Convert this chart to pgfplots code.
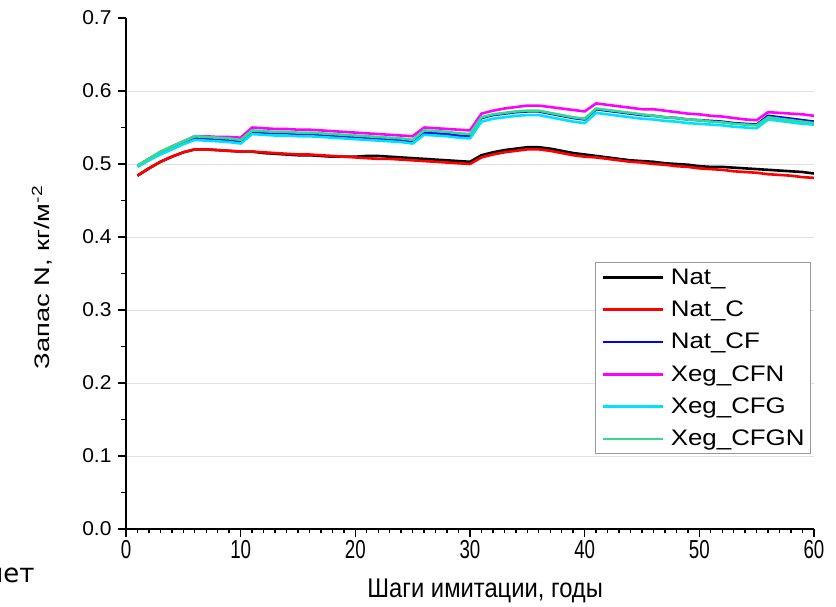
\documentclass[border=0pt]{standalone}
\usepackage{fontspec}
\setmainfont{Liberation Sans}
\usepackage{pgfplots}
\usepackage{pgfplotstable}
\pgfplotsset{compat=1.18}
\newfontfamily\ytickfont[FakeStretch=1.05]{Liberation Sans}
\newfontfamily\xtickfont[FakeStretch=0.72]{Liberation Sans}
\newfontfamily\ylabfont[FakeStretch=1.3]{Liberation Sans}
\newfontfamily\xlabfont[FakeStretch=0.88]{Liberation Sans}
\newfontfamily\legfont[FakeStretch=1.15]{Liberation Sans}
\newfontfamily\letfont{DejaVu Sans}
\definecolor{cNat}{RGB}{0,0,0}
\definecolor{cNatC}{RGB}{255,0,0}
\definecolor{cNatCF}{RGB}{0,0,255}
\definecolor{cCFN}{RGB}{255,0,255}
\definecolor{cCFG}{RGB}{0,225,255}
\definecolor{cCFGN}{RGB}{50,220,140}
\pgfplotstableread{
x nat natc natcf cfn cfg cfgn
1 0.484 0.484 0.497 0.497 0.496 0.498
2 0.494 0.494 0.507 0.507 0.505 0.507
3 0.503 0.503 0.516 0.516 0.513 0.517
4 0.510 0.510 0.523 0.524 0.520 0.524
5 0.516 0.516 0.530 0.531 0.527 0.531
6 0.520 0.520 0.536 0.538 0.533 0.538
7 0.520 0.520 0.535 0.538 0.532 0.537
8 0.519 0.519 0.534 0.537 0.531 0.536
9 0.518 0.518 0.533 0.537 0.530 0.535
10 0.517 0.517 0.531 0.536 0.528 0.533
11 0.517 0.517 0.544 0.550 0.541 0.546
12 0.515 0.516 0.543 0.549 0.540 0.545
13 0.514 0.515 0.542 0.548 0.539 0.544
14 0.513 0.514 0.542 0.548 0.539 0.544
15 0.512 0.513 0.541 0.547 0.538 0.543
16 0.512 0.513 0.541 0.547 0.538 0.543
17 0.511 0.512 0.540 0.546 0.537 0.542
18 0.510 0.511 0.539 0.545 0.536 0.541
19 0.510 0.510 0.538 0.544 0.535 0.540
20 0.510 0.509 0.537 0.543 0.534 0.539
21 0.511 0.508 0.536 0.542 0.533 0.538
22 0.511 0.507 0.535 0.541 0.532 0.537
23 0.510 0.507 0.534 0.540 0.531 0.536
24 0.509 0.506 0.533 0.539 0.530 0.535
25 0.508 0.505 0.531 0.538 0.528 0.533
26 0.507 0.504 0.543 0.550 0.540 0.546
27 0.506 0.503 0.542 0.549 0.539 0.545
28 0.505 0.502 0.541 0.548 0.538 0.544
29 0.504 0.501 0.539 0.547 0.536 0.542
30 0.503 0.500 0.538 0.546 0.535 0.541
31 0.512 0.509 0.563 0.569 0.558 0.564
32 0.516 0.513 0.567 0.573 0.562 0.568
33 0.519 0.516 0.569 0.576 0.564 0.570
34 0.521 0.518 0.571 0.578 0.566 0.572
35 0.523 0.520 0.572 0.580 0.567 0.573
36 0.523 0.520 0.572 0.580 0.567 0.573
37 0.521 0.518 0.569 0.578 0.564 0.570
38 0.518 0.515 0.566 0.576 0.561 0.567
39 0.515 0.512 0.563 0.574 0.558 0.564
40 0.513 0.510 0.561 0.572 0.556 0.562
41 0.511 0.509 0.575 0.583 0.570 0.576
42 0.509 0.507 0.573 0.581 0.568 0.574
43 0.507 0.505 0.571 0.579 0.566 0.572
44 0.505 0.503 0.569 0.577 0.564 0.570
45 0.504 0.502 0.567 0.575 0.562 0.568
46 0.503 0.500 0.566 0.575 0.561 0.566
47 0.501 0.499 0.564 0.573 0.559 0.564
48 0.500 0.497 0.563 0.571 0.558 0.563
49 0.499 0.496 0.561 0.569 0.556 0.561
50 0.497 0.494 0.560 0.568 0.555 0.560
51 0.496 0.493 0.559 0.566 0.554 0.558
52 0.496 0.492 0.558 0.565 0.553 0.557
53 0.495 0.490 0.556 0.563 0.551 0.555
54 0.494 0.489 0.555 0.561 0.550 0.554
55 0.493 0.488 0.554 0.560 0.549 0.553
56 0.492 0.486 0.566 0.571 0.561 0.564
57 0.491 0.485 0.564 0.570 0.559 0.562
58 0.490 0.484 0.562 0.569 0.557 0.560
59 0.489 0.482 0.560 0.568 0.555 0.558
60 0.487 0.481 0.558 0.566 0.554 0.556
}\data
\begin{document}
\begin{tikzpicture}
\useasboundingbox (0,0) rectangle (836pt,607pt);
\begin{axis}[
  at={(126pt,78pt)}, anchor=south west,
  scale only axis, width=688pt, height=511pt,
  xmin=0, xmax=60, ymin=0, ymax=0.7,
  axis x line*=bottom, axis y line*=left,
  axis line style={line width=1.6pt, black, -},
  xtick={0,10,20,30,40,50,60}, minor x tick num=9,
  ytick={0,0.1,0.2,0.3,0.4,0.5,0.6}, minor y tick num=1,
  extra y ticks={0.7}, extra y tick style={grid=none},
  tick align=outside, major tick length=8pt, minor tick length=4.5pt,
  tick style={line width=1.4pt, black},
  ymajorgrids, major grid style={line width=0.8pt, black!12},
  /pgf/number format/assume math mode=true,
  yticklabel style={font=\ytickfont\fontsize{20}{20}\selectfont, xshift=-3pt,
    /pgf/number format/.cd, fixed, fixed zerofill, precision=1, /tikz/.cd},
  xticklabel style={font=\xtickfont\fontsize{26}{26}\selectfont},
  xlabel={Шаги имитации, годы},
  xlabel style={font=\xlabfont\fontsize{27}{27}\selectfont,
    at={(axis description cs:0.522,-0.135)}, anchor=base},
  ylabel={Запас N, кг/м\textsuperscript{-2}},
  ylabel style={font=\ylabfont\fontsize{21}{21}\selectfont,
    at={(axis description cs:-0.122,0.492)}, anchor=center},
  legend cell align=left,
  legend image code/.code={\draw[#1] (0pt,0pt) -- (60pt,0pt);},
  legend style={at={(rel axis cs:0.9956,0.5225)}, anchor=north east,
    draw=black!40, line width=0.8pt, fill=white,
    inner xsep=6pt, inner ysep=4pt, row sep=10.3pt,
    font=\legfont\fontsize{22.5}{22.5}\selectfont,
    nodes={inner sep=0pt, text height=18pt, text depth=4pt},
    /tikz/every odd column/.append style={column sep=7pt}},
  every axis plot/.append style={line width=2.6pt, line join=round},
]
\addplot[cNat] table[x=x,y=nat] {\data};
\addlegendentry{Nat\_}
\addplot[cNatC] table[x=x,y=natc] {\data};
\addlegendentry{Nat\_C}
\addplot[cNatCF] table[x=x,y=natcf] {\data};
\addlegendentry{Nat\_CF}
\addplot[cCFN] table[x=x,y=cfn] {\data};
\addlegendentry{Xeg\_CFN}
\addplot[cCFG] table[x=x,y=cfg] {\data};
\addlegendentry{Xeg\_CFG}
\addplot[cCFGN] table[x=x,y=cfgn] {\data};
\addlegendentry{Xeg\_CFGN}
\end{axis}
\node[font=\letfont\fontsize{26}{26}\selectfont, anchor=base east] at (38pt,24pt) {лет};
\end{tikzpicture}
\end{document}
